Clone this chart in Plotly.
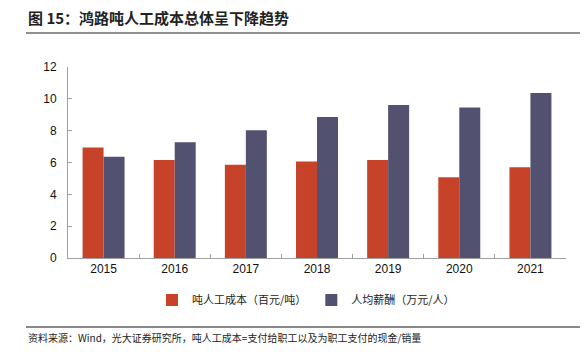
import plotly.graph_objects as go

years = ["2015", "2016", "2017", "2018", "2019", "2020", "2021"]
cost_per_ton = [6.95, 6.15, 5.86, 6.06, 6.16, 5.08, 5.70]
avg_salary = [6.36, 7.27, 8.03, 8.86, 9.62, 9.45, 10.36]
y_ticks = [0, 2, 4, 6, 8, 10, 12]

name_cost = "吨人工成本（百元/吨）"
name_salary = "人均薪酬（万元/人）"
title_text = "图 15：鸿路吨人工成本总体呈下降趋势"
source_text = "资料来源：Wind，光大证券研究所，吨人工成本=支付给职工以及为职工支付的现金/销量"

RED = "#C6432A"
BLUE = "#535170"
CJK = "Noto Sans CJK SC"

# page has an 8px body margin; figure is sized so it ends at the window edge
OFF = 8
FW, FH = 588 - OFF, 357 - OFF
L, T, R, B = 68 - OFF, 67 - OFF, 22, 99
W = FW - L - R
H = FH - T - B


def px_x(page_x):
    return (page_x - OFF - L) / W


def px_y(page_y):
    return 1 - (page_y - OFF - T) / H


fig = go.Figure()
fig.add_trace(go.Bar(x=years, y=cost_per_ton, name=name_cost,
                     marker=dict(color=RED, line=dict(width=0))))
fig.add_trace(go.Bar(x=years, y=avg_salary, name=name_salary,
                     marker=dict(color=BLUE, line=dict(width=0))))

fig.update_layout(
    width=FW, height=FH,
    margin=dict(l=L, r=R, t=T, b=B, autoexpand=False),
    paper_bgcolor="white", plot_bgcolor="white",
    barmode="group", bargap=0.41, bargroupgap=0,
    font=dict(family="Liberation Sans, Arial", size=12, color="#111111"),
    showlegend=True,
    legend=dict(orientation="h", x=px_x(152), xanchor="left", y=px_y(300), yanchor="middle",
                font=dict(family=CJK, size=11, color="#222222"),
                itemwidth=30, traceorder="normal", tracegroupgap=0),
    xaxis=dict(type="category", showline=True, linecolor="#A0A0A0", linewidth=1,
               ticks="inside", ticklen=4, tickcolor="#A0A0A0", tickson="boundaries",
               showgrid=False, tickfont=dict(size=12, color="#111111")),
    yaxis=dict(range=[0, 12], tickvals=y_ticks, showline=True, linecolor="#A0A0A0",
               linewidth=1, ticks="inside", ticklen=4, tickcolor="#A0A0A0",
               showgrid=False, zeroline=False, tickfont=dict(size=12, color="#111111"),
               ticklabelstandoff=8),
)

# title
fig.add_annotation(text="<b>" + title_text + "</b>", xref="paper", yref="paper",
                   x=px_x(26), y=px_y(17), xanchor="left", yanchor="middle",
                   showarrow=False, font=dict(family=CJK, size=15, color="#222222"))
fig.add_shape(type="line", xref="paper", yref="paper",
              x0=px_x(26), x1=px_x(586), y0=px_y(33), y1=px_y(33),
              line=dict(color="#222222", width=1.2))
# footer
fig.add_shape(type="line", xref="paper", yref="paper",
              x0=px_x(26), x1=px_x(588), y0=px_y(327), y1=px_y(327),
              line=dict(color="#888888", width=2))
fig.add_annotation(text=source_text, xref="paper", yref="paper",
                   x=px_x(26), y=px_y(337), xanchor="left", yanchor="middle",
                   showarrow=False, font=dict(family=CJK, size=10, color="#222222"))

fig.write_html("out.html")
